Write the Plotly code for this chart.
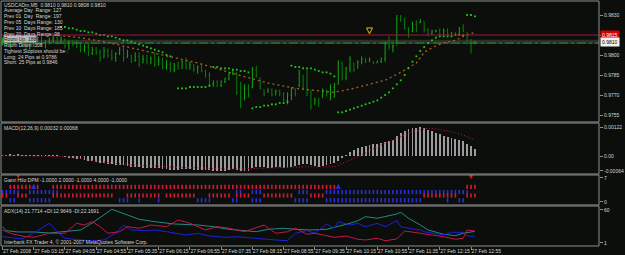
import plotly.graph_objects as go

# ---------------- data ----------------
bar_index = list(range(122))
bar_open = [0.9808, 0.9812, 0.9809, 0.9810, 0.9813, 0.9811, 0.9807, 0.9805, 0.9809, 0.9811,
            0.9813, 0.9809, 0.9810, 0.9812, 0.9813, 0.9810, 0.9812, 0.9807, 0.9809, 0.9808,
            0.9806, 0.9804, 0.9806, 0.9801, 0.9804, 0.9802, 0.9798, 0.9803, 0.9800, 0.9798,
            0.9801, 0.9804, 0.9798, 0.9800, 0.9796, 0.9799, 0.9794, 0.9797, 0.9795, 0.9797,
            0.9793, 0.9796, 0.9791, 0.9793, 0.9789, 0.9792, 0.9790, 0.9795, 0.9791, 0.9793,
            0.9789, 0.9791, 0.9788, 0.9785, 0.9778, 0.9780, 0.9777, 0.9780, 0.9782, 0.9786,
            0.9787, 0.9772, 0.9768, 0.9775, 0.9776, 0.9789, 0.9783, 0.9774, 0.9772, 0.9774,
            0.9770, 0.9773, 0.9771, 0.9766, 0.9770, 0.9774, 0.9777, 0.9785, 0.9776, 0.9772,
            0.9763, 0.9766, 0.9768, 0.9773, 0.9771, 0.9776, 0.9778, 0.9794, 0.9783, 0.9790,
            0.9794, 0.9790, 0.9795, 0.9797, 0.9795, 0.9795, 0.9794, 0.9795, 0.9797, 0.9808,
            0.9806, 0.9807, 0.9827, 0.9826, 0.9820, 0.9818, 0.9823, 0.9824, 0.9825, 0.9819,
            0.9816, 0.9818, 0.9818, 0.9815, 0.9818, 0.9816, 0.9817, 0.9816, 0.9820, 0.9817,
            0.9810, 0.9810]
bar_high = [0.9813, 0.9814, 0.9811, 0.9814, 0.9815, 0.9813, 0.9811, 0.9810, 0.9812, 0.9814,
            0.9814, 0.9811, 0.9813, 0.9815, 0.9814, 0.9814, 0.9812, 0.9811, 0.9811, 0.9811,
            0.9809, 0.9808, 0.9809, 0.9806, 0.9806, 0.9804, 0.9806, 0.9805, 0.9804, 0.9802,
            0.9806, 0.9806, 0.9804, 0.9800, 0.9802, 0.9802, 0.9800, 0.9800, 0.9799, 0.9802,
            0.9799, 0.9798, 0.9796, 0.9795, 0.9794, 0.9795, 0.9796, 0.9798, 0.9795, 0.9793,
            0.9792, 0.9794, 0.9789, 0.9787, 0.9781, 0.9781, 0.9781, 0.9783, 0.9787, 0.9789,
            0.9787, 0.9780, 0.9778, 0.9778, 0.9791, 0.9792, 0.9783, 0.9774, 0.9775, 0.9775,
            0.9774, 0.9774, 0.9772, 0.9772, 0.9776, 0.9775, 0.9789, 0.9785, 0.9789, 0.9774,
            0.9768, 0.9768, 0.9775, 0.9774, 0.9778, 0.9779, 0.9796, 0.9795, 0.9791, 0.9799,
            0.9794, 0.9796, 0.9799, 0.9798, 0.9798, 0.9795, 0.9796, 0.9798, 0.9810, 0.9814,
            0.9808, 0.9830, 0.9830, 0.9828, 0.9821, 0.9825, 0.9826, 0.9827, 0.9825, 0.9820,
            0.9819, 0.9819, 0.9820, 0.9820, 0.9820, 0.9817, 0.9817, 0.9821, 0.9823, 0.9817,
            0.9812, 0.9810]
bar_low = [0.9807, 0.9808, 0.9805, 0.9808, 0.9810, 0.9806, 0.9804, 0.9804, 0.9806, 0.9808,
           0.9807, 0.9805, 0.9808, 0.9809, 0.9808, 0.9809, 0.9805, 0.9804, 0.9807, 0.9805,
           0.9802, 0.9802, 0.9799, 0.9800, 0.9800, 0.9795, 0.9798, 0.9798, 0.9796, 0.9795,
           0.9800, 0.9795, 0.9798, 0.9794, 0.9795, 0.9791, 0.9794, 0.9793, 0.9793, 0.9791,
           0.9792, 0.9789, 0.9789, 0.9787, 0.9787, 0.9789, 0.9790, 0.9789, 0.9789, 0.9787,
           0.9786, 0.9787, 0.9783, 0.9776, 0.9776, 0.9776, 0.9776, 0.9779, 0.9781, 0.9785,
           0.9770, 0.9760, 0.9766, 0.9768, 0.9775, 0.9783, 0.9774, 0.9769, 0.9772, 0.9769,
           0.9770, 0.9769, 0.9765, 0.9763, 0.9766, 0.9769, 0.9776, 0.9774, 0.9769, 0.9759,
           0.9763, 0.9761, 0.9768, 0.9769, 0.9766, 0.9768, 0.9778, 0.9781, 0.9781, 0.9787,
           0.9787, 0.9790, 0.9793, 0.9794, 0.9795, 0.9793, 0.9794, 0.9794, 0.9795, 0.9804,
           0.9802, 0.9808, 0.9825, 0.9819, 0.9813, 0.9817, 0.9817, 0.9824, 0.9817, 0.9814,
           0.9815, 0.9817, 0.9814, 0.9815, 0.9815, 0.9815, 0.9815, 0.9815, 0.9817, 0.9808,
           0.9801, 0.9808]
bar_close = [0.9812, 0.9809, 0.9810, 0.9813, 0.9811, 0.9807, 0.9805, 0.9809, 0.9811, 0.9813,
             0.9809, 0.9810, 0.9812, 0.9813, 0.9810, 0.9812, 0.9807, 0.9809, 0.9808, 0.9806,
             0.9804, 0.9806, 0.9801, 0.9804, 0.9802, 0.9797, 0.9803, 0.9800, 0.9798, 0.9801,
             0.9804, 0.9798, 0.9800, 0.9796, 0.9799, 0.9793, 0.9797, 0.9795, 0.9797, 0.9793,
             0.9796, 0.9791, 0.9793, 0.9789, 0.9792, 0.9790, 0.9795, 0.9791, 0.9793, 0.9789,
             0.9791, 0.9788, 0.9785, 0.9778, 0.9780, 0.9777, 0.9780, 0.9782, 0.9786, 0.9787,
             0.9772, 0.9768, 0.9775, 0.9770, 0.9789, 0.9784, 0.9775, 0.9771, 0.9774, 0.9770,
             0.9773, 0.9771, 0.9766, 0.9770, 0.9774, 0.9771, 0.9786, 0.9776, 0.9772, 0.9762,
             0.9766, 0.9764, 0.9773, 0.9771, 0.9776, 0.9778, 0.9794, 0.9783, 0.9790, 0.9797,
             0.9789, 0.9795, 0.9797, 0.9795, 0.9797, 0.9794, 0.9795, 0.9797, 0.9808, 0.9806,
             0.9807, 0.9827, 0.9826, 0.9820, 0.9818, 0.9823, 0.9819, 0.9825, 0.9819, 0.9816,
             0.9818, 0.9818, 0.9815, 0.9818, 0.9816, 0.9817, 0.9816, 0.9820, 0.9818, 0.9810,
             0.9809, 0.9810]

ma_x = [13, 20, 26, 35, 42, 50, 58, 63, 68, 75, 82, 85, 90, 94, 98, 102, 106, 108, 111, 113, 116, 118, 121]
ma_y = [0.9815, 0.9813, 0.9810, 0.9804, 0.9799, 0.9794, 0.9787, 0.9783, 0.9779, 0.9775, 0.9773, 0.9772,
        0.9775, 0.9778, 0.9781, 0.9787, 0.9794, 0.9802, 0.9807, 0.9809, 0.9811, 0.9814, 0.9817]

sar_x = [15, 16, 17, 18, 19, 20, 21, 22, 23, 24, 25, 26, 27, 28, 29, 30, 31, 32, 33,
         34, 35, 36, 37, 38, 39, 40, 41, 42, 43,
         45, 46, 47, 48, 49, 50, 51, 52, 53,
         54, 55, 56, 57, 58, 59, 60, 61, 62, 63,
         64, 65, 66, 67, 68, 69, 70, 71, 72, 73,
         74, 75, 76, 77, 78, 79, 80, 81, 82, 83, 84, 85,
         86, 87, 88, 89, 90, 91, 92, 93, 94, 95, 96, 97, 98, 99, 100, 101, 102, 103, 104,
         105, 106, 107, 108, 109, 110, 111, 112, 113, 114, 115, 116, 117, 118,
         119, 120, 121]
sar_y = [0.9821, 0.9821, 0.9820, 0.9820, 0.9819, 0.9818, 0.9818, 0.9817, 0.9817, 0.9816, 0.9815, 0.9815,
         0.9814, 0.9814, 0.9813, 0.9812, 0.9811, 0.9811, 0.9810,
         0.9809, 0.9808, 0.9807, 0.9806, 0.9805, 0.9804, 0.9803, 0.9802, 0.9800, 0.9799,
         0.9775, 0.9775, 0.9775, 0.9776, 0.9776, 0.9776, 0.9776, 0.9776, 0.9777,
         0.9791, 0.9791, 0.9790, 0.9790, 0.9790, 0.9789, 0.9789, 0.9788, 0.9788, 0.9787,
         0.9760, 0.9761, 0.9761, 0.9762, 0.9762, 0.9763, 0.9763, 0.9764, 0.9764, 0.9765,
         0.9792, 0.9791, 0.9791, 0.9790, 0.9790, 0.9790, 0.9789, 0.9788, 0.9787, 0.9787, 0.9786, 0.9784,
         0.9757, 0.9757, 0.9758, 0.9759, 0.9760, 0.9761, 0.9762, 0.9763, 0.9764, 0.9765, 0.9766, 0.9768,
         0.9770, 0.9772, 0.9775, 0.9778, 0.9781, 0.9785, 0.9790,
         0.9795, 0.9799, 0.9803, 0.9806, 0.9809, 0.9811, 0.9813, 0.9814, 0.9814, 0.9814, 0.9814,
         0.9815, 0.9815, 0.9815,
         0.9830, 0.9830, 0.9829]

level_line = 0.9815
bid_price = 0.9810
band_lo, band_hi = 0.98083, 0.98115
arrow_x, arrow_y = [94], [0.98158]

macd_hist = [0.00003, 0.00004, 0.00005, 0.00004, 0.00005, 0.00004, 0.00003, 0.00004, 0.00003, 0.00002,
             0.00003, 0.00002, 0.00001, 0.00002, 0.00001, 0.00000,
             -0.00002, -0.00005, -0.00008, -0.00011, -0.00014, -0.00016, -0.00020, -0.00023, -0.00026, -0.00030,
             -0.00031, -0.00033, -0.00036, -0.00039, -0.00037, -0.00040, -0.00042, -0.00045, -0.00046, -0.00049,
             -0.00050, -0.00051, -0.00053, -0.00052, -0.00053, -0.00055, -0.00056, -0.00058, -0.00059, -0.00058,
             -0.00057, -0.00056, -0.00057, -0.00058, -0.00059, -0.00058, -0.00059, -0.00062, -0.00064, -0.00065,
             -0.00065, -0.00063, -0.00060, -0.00057, -0.00060, -0.00065, -0.00066, -0.00066, -0.00052, -0.00048,
             -0.00047, -0.00049, -0.00050, -0.00050, -0.00049, -0.00048, -0.00050, -0.00051, -0.00045, -0.00043,
             -0.00038, -0.00036, -0.00034, -0.00040, -0.00044, -0.00046, -0.00043, -0.00040, -0.00036, -0.00030,
             -0.00022, -0.00010, 0.00004, 0.00018, 0.00026, 0.00033, 0.00039, 0.00044, 0.00048, 0.00051,
             0.00053, 0.00056, 0.00060, 0.00063, 0.00067, 0.00085, 0.00098, 0.00108, 0.00114, 0.00119,
             0.00121, 0.00122, 0.00119, 0.00113, 0.00106, 0.00099, 0.00093, 0.00087, 0.00082, 0.00077,
             0.00073, 0.00069, 0.00064, 0.00053, 0.00042, 0.00032]
macd_sig_x = [0, 17, 25, 33, 42, 50, 58, 63, 70, 78, 85, 88, 92, 96, 100, 105, 109, 111, 115, 118, 121]
macd_sig_y = [0.00002, -0.00003, -0.00024, -0.00038, -0.00046, -0.00051, -0.00056, -0.00054, -0.00050,
              -0.00046, -0.00046, -0.00024, 0.00004, 0.00040, 0.00068, 0.00104, 0.00119, 0.00116,
              0.00104, 0.00090, 0.00068]

# Gann Hilo rows: runs of bar indices (first, last)
gann_row1_red = [(2, 9), (13, 85), (119, 121)]
gann_row2_blue = [(0, 4), (7, 14), (60, 61), (64, 66), (76, 78), (83, 119)]
gann_row3_red = [(0, 1), (4, 6), (13, 28), (32, 35), (36, 40), (42, 49), (53, 58), (60, 63),
                 (67, 74), (79, 82), (108, 116), (119, 121)]
gann_row4_blue = [(2, 3), (7, 12), (30, 32), (35, 35), (40, 40), (50, 53), (59, 60), (64, 66),
                  (75, 78), (83, 107), (114, 114), (117, 118)]
gann_row_levels = [4.4, 2.9, 1.9, 0.5]
gann_arrow_up_x, gann_arrow_up_y = [8, 86], [5.3, 5.3]
gann_arrow_dn_x, gann_arrow_dn_y = [4, 120], [6.9, 6.6]

adx_x = [0, 1, 4, 8, 12, 16, 20, 23, 26, 28, 32, 35, 39, 44, 50, 54, 58, 62, 65, 68, 72, 75, 79, 83,
         86, 89, 91, 93, 96, 99, 101, 102, 104, 107, 109, 113, 116, 118, 121]
adx_y = [30.2, 23.0, 20.7, 20.7, 18.9, 21.2, 24.3, 36.8, 51.1, 61.3, 51.1, 43.4, 39.1, 35.0, 33.2, 30.2,
         25.5, 23.0, 21.2, 25.5, 27.3, 25.5, 24.3, 25.5, 30.2, 36.2, 40.9, 48.1, 45.2, 49.3, 52.9, 55.9,
         45.2, 33.2, 24.3, 16.6, 14.1, 18.4, 21.8]
pdi_x = [0, 3, 5, 8, 12, 14, 16, 20, 23, 26, 29, 31, 33, 37, 39, 42, 44, 47, 50, 53, 57, 60, 63, 67,
         70, 73, 75, 78, 80, 83, 85, 86, 89, 91, 93, 96, 98, 101, 102, 104, 107, 108, 111, 113, 115,
         118, 119, 121]
pdi_y = [12.3, 9.4, 8.2, 18.4, 36.2, 21.2, 9.4, 6.4, 5.1, 6.4, 18.4, 33.2, 24.3, 23.0, 24.3, 21.2,
         18.4, 15.3, 18.4, 13.5, 11.2, 12.3, 10.5, 7.6, 6.4, 5.1, 18.4, 23.0, 18.4, 35.0, 27.3, 39.1,
         33.2, 36.2, 30.2, 36.2, 30.2, 40.9, 30.2, 27.3, 24.3, 21.2, 18.4, 15.3, 20.1, 20.1, 13.5, 13.0]
mdi_x = [0, 2, 5, 8, 12, 16, 17, 19, 21, 23, 25, 27, 30, 32, 35, 38, 42, 45, 48, 52, 55, 58, 62, 67,
         70, 73, 75, 78, 80, 83, 85, 88, 91, 93, 96, 98, 101, 103, 106, 108, 111, 113, 116, 118, 119, 121]
mdi_y = [24.3, 18.4, 13.5, 11.2, 18.4, 18.4, 24.3, 36.2, 33.2, 39.1, 30.2, 18.4, 21.2, 30.2, 27.3,
         33.2, 30.2, 42.1, 36.2, 24.3, 30.2, 27.3, 21.2, 33.2, 18.4, 21.2, 27.3, 16.6, 18.4, 13.5,
         11.2, 13.5, 7.6, 6.4, 9.4, 5.1, 8.2, 22.5, 19.4, 18.4, 15.3, 12.3, 7.6, 9.4, 24.3, 22.2]

time_tick_idx = [0, 8, 16, 24, 32, 40, 48, 56, 64, 72, 80, 88, 96, 104, 112, 120]
time_tick_text = ["27 Feb 2008", "27 Feb 03:15", "27 Feb 04:05", "27 Feb 04:55", "27 Feb 05:35",
                  "27 Feb 06:15", "27 Feb 06:55", "27 Feb 07:35", "27 Feb 08:15", "27 Feb 08:55",
                  "27 Feb 09:35", "27 Feb 10:15", "27 Feb 10:55", "27 Feb 11:35", "27 Feb 12:15",
                  "27 Feb 12:55"]
price_ticks = [0.9830, 0.9815, 0.9800, 0.9785, 0.9770, 0.9755]
price_tick_text = ["0.9830", "", "0.9800", "0.9785", "0.9770", "0.9755"]
macd_ticks, macd_tick_text = [0.00122, 0.0, -0.00064], ["0.00122", "0.00", "-0.00064"]
gann_ticks, gann_tick_text = [7, 0], ["7", "0"]
adx_ticks, adx_tick_text = [60, 1], ["60", "1"]

info_lines = ["USDCADm,M5  0.9810 0.9810 0.9808 0.9810",
              "Average Day  Range: 127",
              "Prev 01  Day  Range: 197",
              "Prev 05  Days Range: 130",
              "Prev 10  Days Range: 185",
              "Prev 20  Days Range: 98",
              "Room Up: 188",
              "Room Down: 306",
              "Tightest Stoploss should be :",
              "Long: 24 Pips at 0.9786",
              "Short: 25 Pips at 0.9846"]
macd_label = "MACD(12,26,9) 0.00032 0.00068"
gann_label = "Gann Hilo DPM -1.0000 2.0000 -1.0000 4.0000 -1.0000"
adx_label = "ADX(14) 21.7714 +DI:12.9649 -DI:22.1691"
copyright_label = "Interbank FX Trader 4, \u00a9 2001-2007 MetaQuotes Software Corp."

# ---------------- style ----------------
BG = "#0b0e0b"
FRAME = "#8e8e8e"
TXT = "#d6d6d6"
FONT = "Liberation Sans, Arial, sans-serif"
FS = 5


def fx(px):
    return (px - 1) / 605.0


def fy(py):
    return (246 - py) / 245.0


def expand(runs):
    out = []
    for a, b in runs:
        out.extend(range(a, b + 1))
    return out


fig = go.Figure()

# main price panel
fig.add_trace(go.Ohlc(x=bar_index, open=bar_open, high=bar_high, low=bar_low, close=bar_close,
                      xaxis="x", yaxis="y", tickwidth=0.2,
                      increasing=dict(line=dict(color="#12a812", width=1)),
                      decreasing=dict(line=dict(color="#0a7e0a", width=1)),
                      showlegend=False, hoverinfo="skip"))
fig.add_trace(go.Scatter(x=ma_x, y=ma_y, mode="lines", yaxis="y",
                         line=dict(color="#a8601e", width=1.3, dash="2px,3px"),
                         showlegend=False, hoverinfo="skip"))
fig.add_trace(go.Scatter(x=sar_x, y=sar_y, mode="markers", yaxis="y",
                         marker=dict(symbol="square", size=1.8, color="#20c820", line=dict(width=0)),
                         showlegend=False, hoverinfo="skip"))
fig.add_trace(go.Scatter(x=arrow_x, y=arrow_y, mode="markers", yaxis="y",
                         marker=dict(symbol="arrow-down-open", size=6, color="#e0c010",
                                     line=dict(color="#e0c010", width=1)),
                         showlegend=False, hoverinfo="skip"))

# MACD panel
fig.add_trace(go.Bar(x=bar_index, y=macd_hist, yaxis="y2", width=0.22,
                     marker=dict(color="#9c9c9c", line=dict(width=0)),
                     showlegend=False, hoverinfo="skip"))
fig.add_trace(go.Scatter(x=macd_sig_x, y=macd_sig_y, mode="lines", yaxis="y2",
                         line=dict(color="#c8103c", width=1.1, dash="1px,2px"),
                         showlegend=False, hoverinfo="skip"))

# Gann Hilo panel
for runs, level, col in [(gann_row1_red, gann_row_levels[0], "#d41a33"),
                         (gann_row2_blue, gann_row_levels[1], "#2a2ed8"),
                         (gann_row3_red, gann_row_levels[2], "#d41a33"),
                         (gann_row4_blue, gann_row_levels[3], "#2a2ed8")]:
    xs = expand(runs)
    fig.add_trace(go.Scatter(x=xs, y=[level] * len(xs), mode="markers", yaxis="y3",
                             marker=dict(symbol="line-ns", size=3, line=dict(color=col, width=1.6)),
                             showlegend=False, hoverinfo="skip"))
fig.add_trace(go.Scatter(x=gann_arrow_up_x, y=gann_arrow_up_y, mode="markers", yaxis="y3",
                         marker=dict(symbol="arrow-up", size=5, color="#2a2ee0"),
                         showlegend=False, hoverinfo="skip"))
fig.add_trace(go.Scatter(x=gann_arrow_dn_x, y=gann_arrow_dn_y, mode="markers", yaxis="y3",
                         marker=dict(symbol="arrow-down", size=5, color="#e01a1a"),
                         showlegend=False, hoverinfo="skip"))

# ADX panel
fig.add_trace(go.Scatter(x=adx_x, y=adx_y, mode="lines", yaxis="y4",
                         line=dict(color="#1f8c84", width=1), showlegend=False, hoverinfo="skip"))
fig.add_trace(go.Scatter(x=pdi_x, y=pdi_y, mode="lines", yaxis="y4",
                         line=dict(color="#2020d8", width=1), showlegend=False, hoverinfo="skip"))
fig.add_trace(go.Scatter(x=mdi_x, y=mdi_y, mode="lines", yaxis="y4",
                         line=dict(color="#c8144a", width=1), showlegend=False, hoverinfo="skip"))

shapes = []
shapes.append(dict(type="rect", xref="paper", x0=0, x1=1, yref="y", y0=band_lo, y1=band_hi,
                   fillcolor="#2b302b", line=dict(width=0), layer="below"))
shapes.append(dict(type="line", xref="paper", x0=0, x1=1, yref="y", y0=level_line, y1=level_line,
                   line=dict(color="#a3123f", width=1)))
shapes.append(dict(type="line", xref="paper", x0=0, x1=1, yref="y", y0=bid_price - 0.0001, y1=bid_price - 0.0001,
                   line=dict(color="#2f8a2f", width=1, dash="dashdot")))
for yd in ["y domain", "y2 domain", "y3 domain", "y4 domain"]:
    shapes.append(dict(type="rect", xref="paper", x0=0, x1=1, yref=yd, y0=0, y1=1,
                       line=dict(color=FRAME, width=1), fillcolor="rgba(0,0,0,0)", layer="above"))

annotations = []
line_y0, line_step = 4.7, 5.77
for k, t in enumerate(info_lines):
    a = dict(x=fx(3), y=fy(line_y0 + k * line_step), xref="paper", yref="paper", text=t,
             showarrow=False, xanchor="left", yanchor="middle",
             font=dict(family=FONT, size=FS, color=TXT), borderpad=0)
    if t.startswith("Room Up"):
        a["bgcolor"] = "#bcbcbc"
        a["font"] = dict(family=FONT, size=FS, color="#1a1a1a")
    annotations.append(a)
for text, ypx in [(macd_label, 128), (gann_label, 179.5), (adx_label, 211), (copyright_label, 242)]:
    annotations.append(dict(x=fx(3), y=fy(ypx), xref="paper", yref="paper", text=text,
                            showarrow=False, xanchor="left", yanchor="middle",
                            font=dict(family=FONT, size=FS, color=TXT), borderpad=0))
annotations.append(dict(x=fx(607), y=level_line, xref="paper", yref="y", text="0.9815",
                        showarrow=False, xanchor="left", yanchor="middle", bgcolor="#d40000",
                        font=dict(family=FONT, size=FS, color="#ffffff"), borderpad=1))
annotations.append(dict(x=fx(607), y=bid_price, xref="paper", yref="y", text="0.9810",
                        showarrow=False, xanchor="left", yanchor="middle", bgcolor="#f2f2f2",
                        font=dict(family=FONT, size=FS, color="#000000"), borderpad=1))

tickfont = dict(family=FONT, size=FS, color=TXT)
yax_common = dict(side="right", anchor="x", showgrid=False, zeroline=False, ticks="outside",
                  ticklen=3, tickcolor=FRAME, tickfont=tickfont, showline=False, fixedrange=True)

fig.update_layout(
    width=625, height=255,
    margin=dict(l=1, r=19, t=1, b=9),
    paper_bgcolor=BG, plot_bgcolor=BG,
    showlegend=False, bargap=0,
    xaxis=dict(domain=[0, 1], range=[-0.38, 152.78], anchor="y4", showgrid=False, zeroline=False,
               tickmode="array", tickvals=time_tick_idx, ticktext=time_tick_text, tickangle=0,
               ticks="outside", ticklen=3, tickcolor=FRAME, tickfont=tickfont,
               ticklabelposition="outside right", ticklabelstandoff=0,
               rangeslider=dict(visible=False), showline=False, fixedrange=True),
    yaxis=dict(domain=[0.50612, 1.0], range=[0.974975, 0.98405], tickmode="array",
               tickvals=price_ticks, ticktext=price_tick_text, **yax_common),
    yaxis2=dict(domain=[0.29388, 0.50204], range=[-0.00077, 0.001412], tickmode="array",
                tickvals=macd_ticks, ticktext=macd_tick_text, **yax_common),
    yaxis3=dict(domain=[0.16735, 0.28980], range=[-0.875, 7.875], tickmode="array",
                tickvals=gann_ticks, ticktext=gann_tick_text, **yax_common),
    yaxis4=dict(domain=[0.0, 0.16327], range=[-4.36, 67.15], tickmode="array",
                tickvals=adx_ticks, ticktext=adx_tick_text, **yax_common),
    shapes=shapes, annotations=annotations,
)

fig.write_html("out.html")
